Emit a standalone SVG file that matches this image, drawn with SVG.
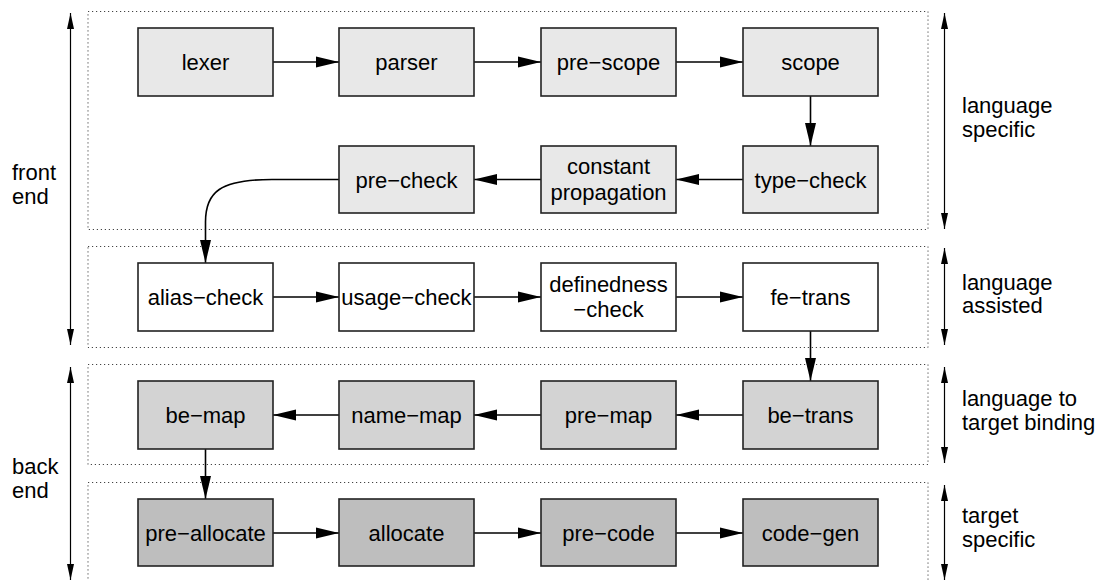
<svg xmlns="http://www.w3.org/2000/svg" width="1101" height="581" viewBox="0 0 1101 581">
<style>
text{font-family:"Liberation Sans",Arial,sans-serif;font-size:22px;fill:#000}
.n rect{stroke:#222;stroke-width:1.6}
.n text{text-anchor:middle}
.l1 rect{fill:#e8e8e8}
.l2 rect{fill:#ffffff}
.l3 rect{fill:#d3d3d3}
.l4 rect{fill:#bebebe}
.zone{fill:none;stroke:#444;stroke-width:1;stroke-dasharray:1.2 2.8}
.e{fill:none;stroke:#000;stroke-width:1.6;marker-end:url(#ah)}
.s{fill:none;stroke:#000;stroke-width:1.2;marker-end:url(#sa);marker-start:url(#sa)}
</style>
<defs>
<marker id="ah" markerUnits="userSpaceOnUse" markerWidth="24" markerHeight="12" refX="23" refY="6" orient="auto"><path d="M0,0.5 L23,6 L0,11.5 z" fill="#000"/></marker>
<marker id="sa" markerUnits="userSpaceOnUse" markerWidth="17" markerHeight="8" refX="16" refY="4" orient="auto-start-reverse"><path d="M0,0.5 L16,4 L0,7.5 z" fill="#000"/></marker>
</defs>
<g id="zones">
<rect class="zone" x="88" y="11.5" width="840" height="218"/>
<rect class="zone" x="88" y="246.5" width="840" height="101"/>
<rect class="zone" x="88" y="364.5" width="840" height="100"/>
<rect class="zone" x="88" y="482.5" width="840" height="130"/>
</g>
<g id="side">
<line class="s" x1="70.5" y1="13" x2="70.5" y2="345"/>
<line class="s" x1="70.5" y1="367" x2="70.5" y2="580"/>
<line class="s" x1="944.5" y1="13" x2="944.5" y2="229"/>
<line class="s" x1="944.5" y1="248" x2="944.5" y2="345"/>
<line class="s" x1="944.5" y1="367" x2="944.5" y2="463"/>
<line class="s" x1="944.5" y1="485" x2="944.5" y2="580"/>
<text x="12" y="180">front</text><text x="12" y="204">end</text>
<text x="12" y="474">back</text><text x="12" y="498">end</text>
<text x="962" y="113">language</text><text x="962" y="137">specific</text>
<text x="962" y="290">language</text><text x="962" y="313">assisted</text>
<text x="962" y="406">language to</text><text x="962" y="430">target binding</text>
<text x="962" y="523">target</text><text x="962" y="547">specific</text>
</g>
<g id="connectors">
<line class="e" x1="273" y1="62" x2="339" y2="62"/>
<line class="e" x1="474" y1="62" x2="541" y2="62"/>
<line class="e" x1="676" y1="62" x2="743" y2="62"/>
<line class="e" x1="810.5" y1="96" x2="810.5" y2="146"/>
<line class="e" x1="743" y1="179.5" x2="676" y2="179.5"/>
<line class="e" x1="541" y1="179.5" x2="474" y2="179.5"/>
<path class="e" d="M339,179.5 L272,179.5 C220,179.5 205.5,192 205.5,222 L205.5,263"/>
<line class="e" x1="273" y1="297" x2="339" y2="297"/>
<line class="e" x1="474" y1="297" x2="541" y2="297"/>
<line class="e" x1="676" y1="297" x2="743" y2="297"/>
<line class="e" x1="810.5" y1="331" x2="810.5" y2="381"/>
<line class="e" x1="743" y1="415" x2="676" y2="415"/>
<line class="e" x1="541" y1="415" x2="474" y2="415"/>
<line class="e" x1="339" y1="415" x2="273" y2="415"/>
<line class="e" x1="205.5" y1="449" x2="205.5" y2="499"/>
<line class="e" x1="273" y1="533" x2="339" y2="533"/>
<line class="e" x1="474" y1="533" x2="541" y2="533"/>
<line class="e" x1="676" y1="533" x2="743" y2="533"/>
</g>
<g id="lexer" class="n l1"><rect x="138" y="28" width="135" height="68"/><text x="205.5" y="70">lexer</text></g>
<g id="parser" class="n l1"><rect x="339" y="28" width="135" height="68"/><text x="406.5" y="70">parser</text></g>
<g id="pre-scope" class="n l1"><rect x="541" y="28" width="135" height="68"/><text x="608.5" y="70">pre−scope</text></g>
<g id="scope" class="n l1"><rect x="743" y="28" width="135" height="68"/><text x="810.5" y="70">scope</text></g>
<g id="type-check" class="n l1"><rect x="743" y="146" width="135" height="67"/><text x="810.5" y="187.5">type−check</text></g>
<g id="constant-propagation" class="n l1"><rect x="541" y="146" width="135" height="67"/><text x="608.5" y="174">constant</text><text x="608.5" y="199.5">propagation</text></g>
<g id="pre-check" class="n l1"><rect x="339" y="146" width="135" height="67"/><text x="406.5" y="187.5">pre−check</text></g>
<g id="alias-check" class="n l2"><rect x="138" y="263" width="135" height="68"/><text x="205.5" y="305">alias−check</text></g>
<g id="usage-check" class="n l2"><rect x="339" y="263" width="135" height="68"/><text x="406.5" y="305">usage−check</text></g>
<g id="definedness-check" class="n l2"><rect x="541" y="263" width="135" height="68"/><text x="608.5" y="291.5">definedness</text><text x="608.5" y="317">−check</text></g>
<g id="fe-trans" class="n l2"><rect x="743" y="263" width="135" height="68"/><text x="810.5" y="305">fe−trans</text></g>
<g id="be-trans" class="n l3"><rect x="743" y="381" width="135" height="68"/><text x="810.5" y="423">be−trans</text></g>
<g id="pre-map" class="n l3"><rect x="541" y="381" width="135" height="68"/><text x="608.5" y="423">pre−map</text></g>
<g id="name-map" class="n l3"><rect x="339" y="381" width="135" height="68"/><text x="406.5" y="423">name−map</text></g>
<g id="be-map" class="n l3"><rect x="138" y="381" width="135" height="68"/><text x="205.5" y="423">be−map</text></g>
<g id="pre-allocate" class="n l4"><rect x="138" y="499" width="135" height="67"/><text x="205.5" y="540.5">pre−allocate</text></g>
<g id="allocate" class="n l4"><rect x="339" y="499" width="135" height="67"/><text x="406.5" y="540.5">allocate</text></g>
<g id="pre-code" class="n l4"><rect x="541" y="499" width="135" height="67"/><text x="608.5" y="540.5">pre−code</text></g>
<g id="code-gen" class="n l4"><rect x="743" y="499" width="135" height="67"/><text x="810.5" y="540.5">code−gen</text></g>
</svg>
